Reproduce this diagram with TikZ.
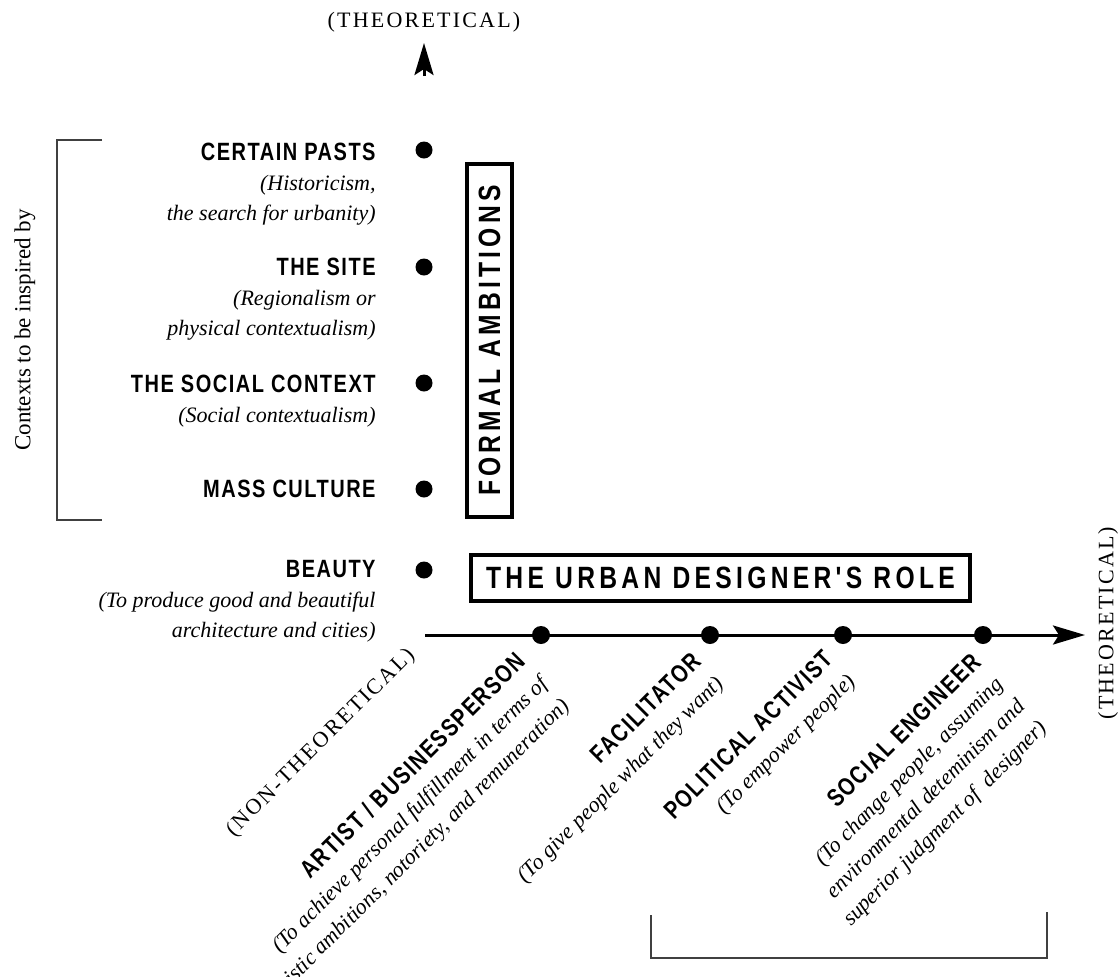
\documentclass[tikz,border=0pt]{standalone}
\usepackage{fontspec}
\setmainfont{Liberation Serif}
\newfontfamily\headfont{Liberation Sans Bold}[FakeStretch=0.8,LetterSpace=6]
\newfontfamily\boxfont{Liberation Sans Bold}[FakeStretch=0.8,LetterSpace=14]
\newfontfamily\capsfont{Liberation Serif}[LetterSpace=10]
\usetikzlibrary{arrows.meta,positioning}
\newcommand{\rolename}[1]{{\headfont\upshape\fontsize{12.5}{15}\selectfont #1}}

\begin{document}
\begin{tikzpicture}[x=0.5pt,y=-0.5pt,
    dot/.style={circle,fill=black,inner sep=0pt,minimum size=8.5pt},
    axisdot/.style={circle,fill=black,inner sep=0pt,minimum size=9pt},
    ctx/.style={anchor=north east,align=right,inner sep=0pt,font=\itshape\fontsize{11}{15}\selectfont},
    role/.style={rotate=45,anchor=north east,align=right,inner sep=0pt,font=\itshape\fontsize{11}{15.5}\selectfont},
    axislab/.style={inner sep=0pt,font=\capsfont\fontsize{11}{13}\selectfont},
    framebox/.style={draw,line width=2pt,inner sep=0pt,font=\boxfont\fontsize{15.4}{18}\selectfont},
    axis/.style={line width=1.5pt,-{Stealth[length=16pt,width=9.5pt,inset=3pt]}},
    bracket/.style={line width=0.75pt,black!75}]
  \useasboundingbox (0,0) rectangle (1120,976);

  % vertical scale: contexts
  \coordinate (ybase) at (424,76);
  \coordinate (ytip) at (424,43);
  \draw[axis] (ybase) -- (ytip);
  \node[axislab,above=5pt of ytip] (ytheo) {(THEORETICAL)};

  \node[dot] (pastsdot) at (424,150) {};
  \node[dot] (sitedot) at (424,267) {};
  \node[dot] (socialdot) at (424,383) {};
  \node[dot] (massdot) at (424,489) {};
  \node[dot] (beautydot) at (424,570) {};

  \node[ctx] (pasts) at (376,143) {\rolename{CERTAIN PASTS}\\(Historicism,\\the search for urbanity)};
  \node[ctx] (site) at (376,258) {\rolename{THE SITE}\\(Regionalism or\\physical contextualism)};
  \node[ctx] (social) at (376,375) {\rolename{THE SOCIAL CONTEXT}\\(Social contextualism)};
  \node[ctx] (mass) at (376,480) {\rolename{MASS CULTURE}};
  \node[ctx] (beauty) at (376,560) {\rolename{BEAUTY}\\(To produce good and beautiful\\architecture and cities)};

  \coordinate (brtop) at (102,140);
  \coordinate (brbot) at (102,520);
  \draw[bracket] (brtop) -- (57,140) -- (57,520) -- (brbot);
  \node[rotate=90,inner sep=0pt,font=\fontsize{11.5}{13}\selectfont] (contexts) at (25,330) {Contexts to be inspired by};

  \node[framebox,rotate=90,minimum width=176.5pt,minimum height=22.5pt] (formal) at (489.5,340.5) {FORMAL AMBITIONS};
  \node[framebox,minimum width=249.5pt,minimum height=23pt] (udrole) at (720.5,578) {THE URBAN DESIGNER'S ROLE};

  % horizontal scale: roles
  \coordinate (xbase) at (425,635);
  \coordinate (xtip) at (1085,635);
  \draw[axis] (xbase) -- (xtip);
  \node[axislab,rotate=90] (xtheo) at (1108,623) {(THEORETICAL)};
  \node[axislab,rotate=45] (nontheo) at (321,743) {(NON-THEORETICAL)};

  \node[axisdot] (artistdot) at (541,635) {};
  \node[axisdot] (facildot) at (710,635) {};
  \node[axisdot] (activdot) at (843,635) {};
  \node[axisdot] (engdot) at (983,635) {};

  \node[role] (artist) at (514,650) {\rolename{ARTIST / BUSINESSPERSON}\\(To achieve personal fulfillment in terms of\\artistic ambitions, notoriety, and remuneration)};
  \node[role] (facil) at (690,650) {\rolename{FACILITATOR}\\(To give people what they want)};
  \node[role] (activ) at (822,648) {\rolename{POLITICAL ACTIVIST}\\(To empower people)};
  \node[role] (eng) at (970,651) {\rolename{SOCIAL ENGINEER}\\(To change people, assuming\\environmental deteminism and\\superior judgment of~ designer)};

  \coordinate (bbleft) at (651,915);
  \coordinate (bbright) at (1047,912);
  \draw[bracket] (bbleft) -- (651,958) -- (1047,958) -- (bbright);
\end{tikzpicture}
\end{document}
